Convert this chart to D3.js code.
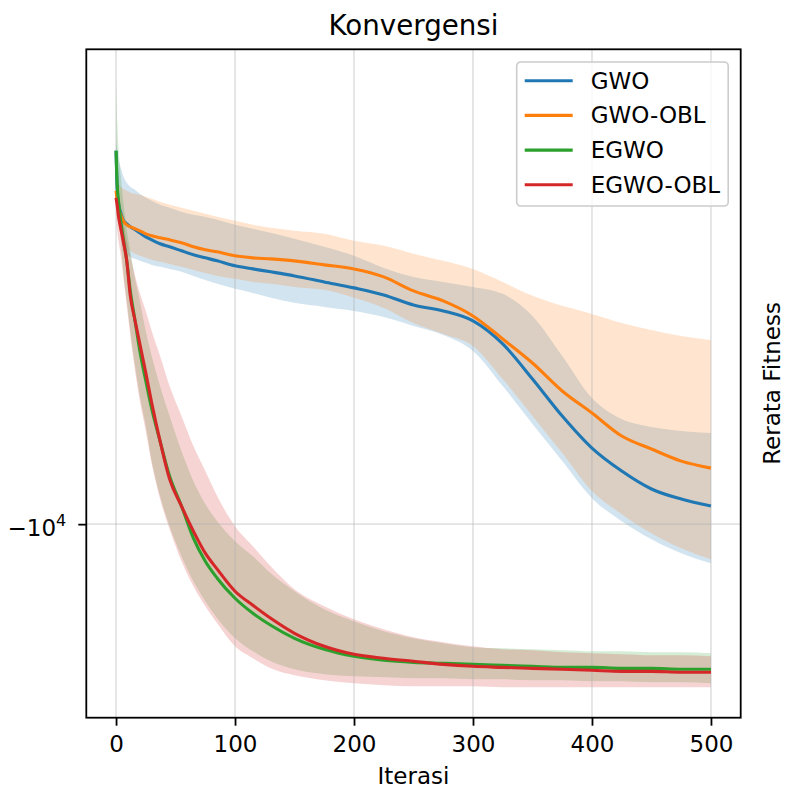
<!DOCTYPE html>
<html lang="en">
<head>
<meta charset="UTF-8">
<title>Konvergensi</title>
<script src="https://d3js.org/d3.v7.min.js"></script>
<style>
    body { margin: 0; background: #fff; }
    svg { font-family: "DejaVu Sans", sans-serif; }
    svg text { fill: #000; }
</style>
</head>
<body>
<svg id="chart" width="785" height="789"></svg>
<script>
const iterations = [0,1,2,4,6,9,12,16,20,25,30,37,45,55,65,75,85,100,115,130,150,175,200,225,250,275,300,325,350,375,400,425,450,475,500];

const seriesNames = ["GWO", "GWO-OBL", "EGWO", "EGWO-OBL"];
const colors = ["#1f77b4", "#ff7f0e", "#2ca02c", "#d62728"];

// mean fitness and the shaded band (upper = less negative, lower = more negative)
const gwoMean  = [-6206,-6531,-6641,-6718,-6778,-6813,-6839,-6865,-6892,-6927,-6954,-6989,-7016,-7052,-7088,-7116,-7143,-7189,-7217,-7244,-7282,-7338,-7394,-7461,-7557,-7615,-7713,-7943,-8307,-8710,-9074,-9344,-9561,-9685,-9772];
const gwoUpper = [-6127,-6206,-6270,-6342,-6407,-6465,-6498,-6523,-6557,-6590,-6615,-6649,-6675,-6709,-6735,-6752,-6778,-6822,-6856,-6892,-6945,-7016,-7097,-7208,-7291,-7338,-7385,-7451,-7664,-8066,-8512,-8744,-8833,-8878,-8901];
const gwoLower = [-6285,-6615,-6744,-6874,-6980,-7070,-7107,-7125,-7143,-7161,-7180,-7198,-7217,-7244,-7282,-7319,-7356,-7403,-7442,-7489,-7537,-7576,-7615,-7674,-7762,-7853,-8015,-8382,-8799,-9226,-9673,-9962,-10194,-10378,-10512];

const gwoOblMean  = [-6531,-6615,-6675,-6735,-6787,-6822,-6839,-6856,-6874,-6901,-6918,-6936,-6954,-6980,-7016,-7043,-7061,-7097,-7116,-7125,-7143,-7180,-7217,-7291,-7423,-7518,-7664,-7893,-8139,-8435,-8676,-8935,-9085,-9226,-9309];
const gwoOblUpper = [-6407,-6448,-6473,-6498,-6515,-6531,-6548,-6557,-6565,-6582,-6599,-6624,-6649,-6675,-6701,-6726,-6752,-6787,-6822,-6848,-6874,-6901,-6963,-7007,-7079,-7143,-7217,-7338,-7470,-7566,-7644,-7733,-7802,-7862,-7903];
const gwoOblLower = [-6615,-6701,-6769,-6856,-6945,-7016,-7052,-7079,-7097,-7116,-7134,-7152,-7171,-7198,-7226,-7254,-7282,-7309,-7338,-7356,-7385,-7413,-7489,-7586,-7733,-7842,-7963,-8307,-8710,-9132,-9586,-9873,-10116,-10312,-10458];

const egwoMean  = [-6206,-6490,-6615,-6787,-6936,-7143,-7423,-7713,-8015,-8328,-8632,-8993,-9404,-9772,-10180,-10485,-10715,-10993,-11206,-11379,-11570,-11734,-11839,-11900,-11931,-11946,-11962,-11977,-11992,-12008,-12008,-12023,-12023,-12038,-12038];
const egwoUpper = [-5667,-5972,-6166,-6407,-6615,-6856,-7052,-7309,-7518,-7812,-8066,-8382,-8710,-9108,-9465,-9747,-9962,-10220,-10418,-10647,-10895,-11149,-11321,-11467,-11570,-11644,-11704,-11719,-11734,-11749,-11764,-11764,-11779,-11779,-11794];
const egwoLower = [-6285,-6531,-6744,-6963,-7235,-7518,-7812,-8170,-8490,-8822,-9226,-9648,-10026,-10418,-10756,-11035,-11278,-11570,-11764,-11915,-12038,-12115,-12146,-12162,-12177,-12177,-12193,-12193,-12208,-12208,-12224,-12224,-12240,-12240,-12256];

const egwoOblMean  = [-6590,-6658,-6744,-6856,-6963,-7143,-7470,-7713,-7943,-8243,-8566,-8993,-9440,-9772,-10090,-10378,-10592,-10895,-11092,-11278,-11496,-11689,-11809,-11869,-11915,-11962,-11992,-12008,-12023,-12038,-12053,-12069,-12069,-12084,-12084];
const egwoOblUpper = [-6366,-6490,-6531,-6658,-6787,-6963,-7097,-7282,-7442,-7615,-7812,-8066,-8382,-8710,-9051,-9344,-9648,-10026,-10285,-10552,-10867,-11106,-11292,-11438,-11556,-11629,-11689,-11734,-11749,-11779,-11794,-11809,-11824,-11824,-11839];
const egwoOblLower = [-6744,-6874,-6963,-7097,-7282,-7566,-7862,-8222,-8544,-8878,-9261,-9685,-10064,-10485,-10825,-11106,-11350,-11689,-11869,-12023,-12131,-12208,-12256,-12287,-12303,-12303,-12303,-12318,-12318,-12318,-12318,-12318,-12318,-12318,-12318];

const xTicks = [0, 100, 200, 300, 400, 500];
const yTicks = [-10000];

const means  = [gwoMean, gwoOblMean, egwoMean, egwoOblMean];
const uppers = [gwoUpper, gwoOblUpper, egwoUpper, egwoOblUpper];
const lowers = [gwoLower, gwoOblLower, egwoLower, egwoOblLower];

const series = seriesNames.map((name, i) => ({
    name: name,
    color: colors[i],
    points: iterations.map((it, j) => ({ it: it, mean: means[i][j], lo: lowers[i][j], hi: uppers[i][j] }))
}));

const svg = d3.select("#chart");
const plot = { left: 86.3, right: 740.7, top: 49.3, bottom: 717.7 };
const fs = 23;

const x = d3.scaleLinear().domain([-25, 525]).range([plot.left, plot.right]);

// symlog axis, autoscaled with a 5% margin in transformed space
const tf = v => Math.sign(v) * Math.log1p(Math.abs(v));
const tfInv = u => Math.sign(u) * Math.expm1(Math.abs(u));
const allVals = series.flatMap(s => s.points.flatMap(p => [p.lo, p.hi]));
const tLo = d3.min(allVals, tf), tHi = d3.max(allVals, tf);
const pad = (tHi - tLo) * 0.05;
const y = d3.scaleSymlog().constant(1)
    .domain([tfInv(tLo - pad), tfInv(tHi + pad)])
    .range([plot.bottom, plot.top]);

svg.append("defs").append("clipPath").attr("id", "clip")
    .append("rect")
    .attr("x", plot.left).attr("y", plot.top)
    .attr("width", plot.right - plot.left).attr("height", plot.bottom - plot.top);

const area = d3.area()
    .x(d => x(d.it))
    .y0(d => y(d.lo))
    .y1(d => y(d.hi))
    .curve(d3.curveMonotoneX);

const line = d3.line()
    .x(d => x(d.it))
    .y(d => y(d.mean))
    .curve(d3.curveMonotoneX);

// bands first
svg.append("g").attr("clip-path", "url(#clip)")
    .selectAll("path")
    .data(series)
    .enter()
    .append("path")
    .attr("d", d => area(d.points))
    .attr("fill", d => d.color)
    .attr("fill-opacity", 0.2);

// grid
const grid = svg.append("g").attr("stroke", "#b0b0b0").attr("stroke-opacity", 0.35).attr("stroke-width", 1.8);
grid.selectAll(".gx").data(xTicks).enter().append("line")
    .attr("x1", d => x(d)).attr("x2", d => x(d))
    .attr("y1", plot.top).attr("y2", plot.bottom);
grid.selectAll(".gy").data(yTicks).enter().append("line")
    .attr("x1", plot.left).attr("x2", plot.right)
    .attr("y1", d => y(d)).attr("y2", d => y(d));

// mean lines
svg.append("g").attr("clip-path", "url(#clip)")
    .selectAll("path")
    .data(series)
    .enter()
    .append("path")
    .attr("d", d => line(d.points))
    .attr("fill", "none")
    .attr("stroke", d => d.color)
    .attr("stroke-width", 3.1)
    .attr("stroke-linejoin", "round");

// axes
const xAxis = d3.axisBottom(x).tickValues(xTicks).tickSize(8).tickSizeOuter(0).tickPadding(10);
const gx = svg.append("g")
    .attr("transform", `translate(0,${plot.bottom})`)
    .call(xAxis);
gx.select(".domain").remove();
gx.selectAll("line").attr("stroke", "#000").attr("stroke-width", 1.8);
gx.selectAll("text").attr("font-size", fs).attr("font-family", "DejaVu Sans").attr("fill", "#000");

const yAxis = d3.axisLeft(y).tickValues(yTicks).tickSize(8).tickSizeOuter(0).tickFormat("");
const gy = svg.append("g")
    .attr("transform", `translate(${plot.left},0)`)
    .call(yAxis);
gy.select(".domain").remove();
gy.selectAll("line").attr("stroke", "#000").attr("stroke-width", 1.8);
gy.selectAll(".tick").each(function (d) {
    const exp = Math.round(Math.log10(Math.abs(d)));
    const t = d3.select(this).append("text")
        .attr("x", -20)
        .attr("y", 11)
        .attr("text-anchor", "end")
        .attr("font-size", fs)
        .attr("font-family", "DejaVu Sans")
        .attr("fill", "#000");
    t.append("tspan").text((d < 0 ? "\u2212" : "") + "10");
    t.append("tspan").attr("dy", -10).attr("font-size", 16).text(exp);
});

// frame
svg.append("rect")
    .attr("x", plot.left).attr("y", plot.top)
    .attr("width", plot.right - plot.left).attr("height", plot.bottom - plot.top)
    .attr("fill", "none").attr("stroke", "#000").attr("stroke-width", 1.8);

// labels
svg.append("text")
    .attr("x", (plot.left + plot.right) / 2)
    .attr("y", 35)
    .attr("text-anchor", "middle")
    .attr("font-size", 27.7)
    .text("Konvergensi");

svg.append("text")
    .attr("x", (plot.left + plot.right) / 2)
    .attr("y", 784)
    .attr("text-anchor", "middle")
    .attr("font-size", fs)
    .text("Iterasi");

svg.append("text")
    .attr("transform", `translate(780,${(plot.top + plot.bottom) / 2}) rotate(-90)`)
    .attr("text-anchor", "middle")
    .attr("font-size", fs)
    .text("Rerata Fitness");

// legend
const legend = svg.append("g").attr("transform", "translate(516.7,62)");
legend.append("rect")
    .attr("width", 211.5).attr("height", 144)
    .attr("rx", 4).attr("ry", 4)
    .attr("fill", "#fff").attr("fill-opacity", 0.8)
    .attr("stroke", "#cccccc").attr("stroke-width", 1.6);

const rows = legend.selectAll(".row")
    .data(series)
    .enter()
    .append("g")
    .attr("transform", (d, i) => `translate(0,${18.7 + i * 34.7})`);
rows.append("line")
    .attr("x1", 8).attr("x2", 56)
    .attr("stroke", d => d.color)
    .attr("stroke-width", 3.1);
rows.append("text")
    .attr("x", 74)
    .attr("y", 8)
    .attr("font-size", fs)
    .text(d => d.name);
</script>
</body>
</html>
